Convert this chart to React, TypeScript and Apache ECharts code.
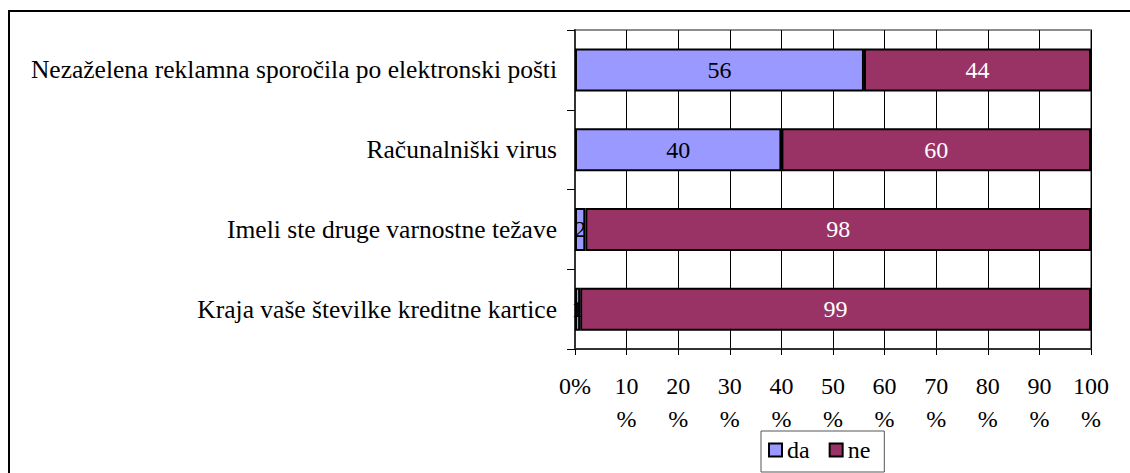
import React, { useEffect, useRef } from "react";
import * as echarts from "echarts";

const categories = [
  "Nezaželena reklamna sporočila po elektronski pošti",
  "Računalniški virus",
  "Imeli ste druge varnostne težave",
  "Kraja vaše številke kreditne kartice",
];
const daValues = [56, 40, 2, 1];
const neValues = [44, 60, 98, 99];
const xTicks = [0, 10, 20, 30, 40, 50, 60, 70, 80, 90, 100];

const FONT = "Liberation Serif";
const FS = 24;

export default function App() {
  const ref = useRef<HTMLDivElement>(null);
  useEffect(() => {
    if (!ref.current) return;
    const chart = echarts.init(ref.current, null, { renderer: "svg" });
    chart.setOption({
      animation: false,
      textStyle: { fontFamily: FONT, fontSize: FS },
      graphic: [
        {
          type: "rect",
          shape: { x: 9, y: 11, width: 1140, height: 480 },
          style: { fill: "none", stroke: "#000", lineWidth: 2 },
          silent: true,
          z: -10,
        },
      ],
      grid: {
        left: 575,
        right: 39,
        top: 30,
        bottom: 124,
        show: true,
        borderColor: "#8c8c8c",
        borderWidth: 2,
        containLabel: false,
      },
      legend: {
        left: 761,
        top: 431,
        orient: "horizontal",
        backgroundColor: "#fff",
        borderColor: "#555",
        borderWidth: 1,
        padding: [7, 14, 10, 7],
        itemWidth: 13,
        itemHeight: 13,
        itemGap: 19,
        icon: "rect",
        itemStyle: { borderColor: "#000", borderWidth: 2 },
        textStyle: { fontFamily: FONT, fontSize: FS, color: "#000" },
        data: ["da", "ne"],
      },
      xAxis: {
        type: "value",
        min: 0,
        max: 100,
        interval: 10,
        axisLine: { show: true, lineStyle: { color: "#333", width: 2 } },
        axisTick: { show: true, length: 6, lineStyle: { color: "#000" } },
        splitLine: { show: true, lineStyle: { color: "#000", width: 1 } },
        axisLabel: {
          margin: 20,
          fontFamily: FONT,
          fontSize: FS,
          color: "#000",
          lineHeight: 33,
          formatter: (v: number) => (xTicks.indexOf(v) === 0 ? v + "%" : v + "\n%"),
        },
      },
      yAxis: {
        type: "category",
        data: categories,
        inverse: true,
        axisLine: { show: true, lineStyle: { color: "#333", width: 2 } },
        axisTick: { show: true, length: 8, lineStyle: { color: "#000" } },
        splitLine: { show: false },
        axisLabel: {
          margin: 18,
          fontFamily: FONT,
          fontSize: 25.5,
          color: "#000",
        },
      },
      series: [
        {
          name: "da",
          type: "bar",
          stack: "total",
          barWidth: 43,
          data: daValues,
          itemStyle: { color: "#9999ff", borderColor: "#000", borderWidth: 2 },
          label: {
            show: true,
            position: "inside",
            fontFamily: FONT,
            fontSize: FS,
            color: "#000",
          },
        },
        {
          name: "ne",
          type: "bar",
          stack: "total",
          barWidth: 43,
          data: neValues,
          itemStyle: { color: "#993366", borderColor: "#000", borderWidth: 2 },
          label: {
            show: true,
            position: "inside",
            fontFamily: FONT,
            fontSize: FS,
            color: "#fff",
          },
        },
      ],
    });
    return () => chart.dispose();
  }, []);
  return (
    <div
      ref={ref}
      style={{ position: "fixed", left: 0, top: 0, width: 1130, height: 473, background: "#fff" }}
    />
  );
}
